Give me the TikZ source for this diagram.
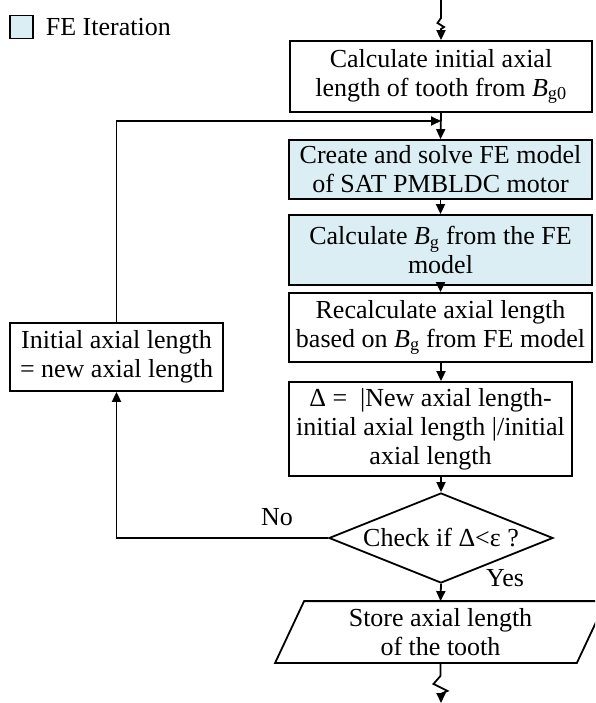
\documentclass[tikz,border=0pt]{standalone}
\usepackage{fontspec}
\setmainfont{Liberation Serif}
\usetikzlibrary{arrows.meta,shapes.geometric}
\definecolor{feblue}{HTML}{DBEEF4}
\begin{document}
\begin{tikzpicture}[x=1pt,y=-1pt,
  font=\fontsize{26}{29}\selectfont,
  line width=1.8pt,
  arr/.style={-{Triangle[length=10pt,width=9pt]}},
  procbox/.style={draw, rectangle, align=center, inner sep=2pt},
  febox/.style={procbox, fill=feblue},
  decision/.style={draw, diamond, aspect=2.5, inner sep=0pt,
    minimum width=224pt, minimum height=90pt},
  lbl/.style={inner sep=0pt}]
\useasboundingbox (0,0) rectangle (595,703);
\clip (0,0) rectangle (595,703);

% legend
\node[draw, fill=feblue, minimum size=23pt, inner sep=0pt, line width=1.5pt] (key) at (21.5,27) {};
\node[lbl, anchor=west] (keytext) at (45,27) {FE Iteration};

% main column
\node[procbox, minimum width=302pt, minimum height=71pt] (box1) at (441,76.5)
  {Calculate initial axial\\length of tooth from \textit{B}\textsubscript{g0}};
\node[febox, minimum width=303pt, minimum height=59pt] (box2) at (440.5,169.5)
  {Create and solve FE model\\of SAT PMBLDC motor};
\node[febox, minimum width=303pt, minimum height=70pt] (box3) at (440.5,250)
  {Calculate \textit{B}\textsubscript{g} from the FE\\model};
\node[procbox, minimum width=303pt, minimum height=69pt] (box4) at (440.5,327.5)
  {Recalculate axial length\\based on \textit{B}\textsubscript{g} from FE model};
\node[procbox, minimum width=283pt, minimum height=94pt] (box5) at (430.5,429)
  {Δ = \ |New axial length-\\initial axial length |/initial\\axial length};
\node[decision] (dia) at (441,538) {Check if Δ<ε ?};

% output (parallelogram drawn round a plain node)
\node[minimum width=300pt, minimum height=60pt, inner sep=0pt, align=center] (store) at (440.5,632)
  {Store axial length\\of the tooth};
\draw ([xshift=14.5pt]store.north west) -- ([xshift=14.5pt]store.north east)
  -- ([xshift=-14.5pt]store.south east) -- ([xshift=-14.5pt]store.south west) -- cycle;

% feedback box
\node[procbox, minimum width=213pt, minimum height=68pt] (left) at (116.5,357)
  {Initial axial length\\= new axial length};

\coordinate (in0) at (441,0);
\coordinate (join) at (441,121);
\coordinate (out0) at (441,703);

% connectors
\draw[arr] (in0) -- ++(0,18) -- ++(-3.5,5) -- ++(6.5,4) -- ++(-3,2) -- (box1.north);
\draw[arr] (box1.south) -- (box2.north);
\draw[arr] (left.north) |- (join);
\draw[arr] (box2.south) -- (box3.north);
\draw[arr] (box3.south) -- (box4.north);
\draw[arr] (box4.south -| box1.south) -- (box5.north -| box1.south);
\draw[arr] (dia.north |- box5.south) -- (dia.north);
\draw[arr] (dia.south) -- (store.north);
\draw[arr] (dia.west) -| (left.south);
\draw[arr] (store.south) -- ++(0,13) -- ++(-7,8) -- ++(14,7) -- ++(-6.5,3) -- (out0);

% branch labels
\node[lbl] (nolbl) at (277,517) {No};
\node[lbl] (yeslbl) at (505,578) {Yes};
\end{tikzpicture}
\end{document}
